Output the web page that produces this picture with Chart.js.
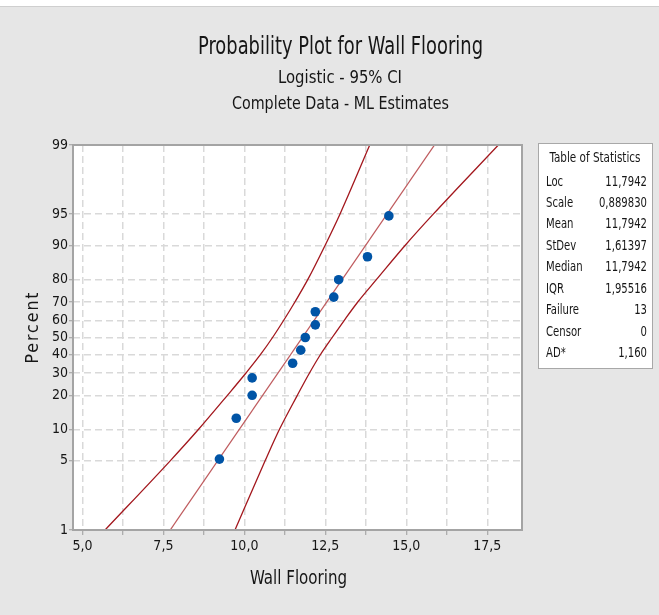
<!DOCTYPE html>
<html><head><meta charset="utf-8">
<script src="https://cdn.jsdelivr.net/npm/chart.js@4.4.0/dist/chart.umd.min.js"></script>
<style>html,body{margin:0;padding:0;background:#e6e6e6;}canvas{display:block;}</style>
</head><body>
<canvas id="c" width="659" height="615"></canvas>
<script>
// ---- data ----
const wallFlooring = [9.23, 9.75, 10.24, 10.24, 11.49, 11.74, 11.88, 12.19, 12.19, 12.76, 12.91, 13.80, 14.46];
const plotPercent  = [5.2, 12.7, 20.1, 27.6, 35.1, 42.5, 50.0, 57.5, 64.9, 72.4, 79.9, 87.3, 94.8];
const fitPercent   = [1, 99];
const fitX         = [7.71, 15.87];
const bandPercent  = [1, 5, 10, 20, 30, 40, 50, 60, 70, 80, 90, 95, 99];
const lowerBoundX  = [5.70, 7.71, 8.58, 9.47, 10.05, 10.50, 10.87, 11.21, 11.56, 11.96, 12.49, 12.95, 13.87];
const upperBoundX  = [9.71, 10.64, 11.08, 11.63, 12.01, 12.35, 12.71, 13.08, 13.50, 14.08, 14.96, 15.83, 17.84];
const yTickValues  = [1, 5, 10, 20, 30, 40, 50, 60, 70, 80, 90, 95, 99];
const xTickValues  = [5, 6.25, 7.5, 8.75, 10, 11.25, 12.5, 13.75, 15, 16.25, 17.5];
const xLabelled    = [5, 7.5, 10, 12.5, 15, 17.5];
const statNames    = ["Loc", "Scale", "Mean", "StDev", "Median", "IQR", "Failure", "Censor", "AD*"];
const statValues   = ["11,7942", "0,889830", "11,7942", "1,61397", "11,7942", "1,95516", "13", "0", "1,160"];
const titleLines   = ["Probability Plot for Wall Flooring", "Logistic - 95% CI", "Complete Data - ML Estimates"];

// ---- logistic probability (logit) scale ----
const logit = p => Math.log(p / (1 - p));
class LogitScale extends Chart.LinearScale {
  static id = 'logit';
  static defaults = {};
  getPixelForValue(v) {
    const lo = logit(this.min / 100), hi = logit(this.max / 100);
    return this.getPixelForDecimal((logit(v / 100) - lo) / (hi - lo));
  }
  getValueForPixel(px) {
    const lo = logit(this.min / 100), hi = logit(this.max / 100);
    const l = lo + this.getDecimalForPixel(px) * (hi - lo);
    return 100 / (1 + Math.exp(-l));
  }
}
Chart.register(LogitScale);

const FONT = '"Segoe UI", "Liberation Sans Narrow", "DejaVu Sans Condensed", Lato, "Open Sans", sans-serif';
const TXT = '#161616';

function drawText(ctx, text, x, y, size, opts = {}) {
  ctx.save();
  ctx.font = (opts.weight || 'normal') + ' ' + size + 'px ' + FONT;
  if (opts.spacing) ctx.letterSpacing = opts.spacing;
  ctx.fillStyle = opts.color || TXT;
  ctx.textBaseline = 'middle';
  const w = ctx.measureText(text).width;
  let sx = opts.sx || 1;
  if (opts.width) sx = opts.width / w;
  ctx.translate(x, y);
  if (opts.rotate) ctx.rotate(opts.rotate);
  ctx.scale(sx, 1);
  ctx.textAlign = opts.align || 'center';
  ctx.fillText(text, 0, 0);
  ctx.restore();
}

const decor = {
  id: 'decor',
  beforeDraw(chart) {
    const ctx = chart.ctx, a = chart.chartArea;
    ctx.save();
    ctx.fillStyle = '#e6e6e6';
    ctx.fillRect(0, 0, chart.width, chart.height);
    ctx.fillStyle = '#ffffff';
    ctx.fillRect(0, 0, chart.width, 6);
    ctx.fillStyle = '#cfcfcf';
    ctx.fillRect(0, 6, chart.width, 1);
    ctx.fillStyle = '#ffffff';
    ctx.fillRect(a.left, a.top, a.right - a.left, a.bottom - a.top);
    ctx.restore();
  },
  afterDraw(chart) {
    const ctx = chart.ctx, a = chart.chartArea;
    ctx.save();
    ctx.strokeStyle = '#a4a4a4';
    ctx.lineWidth = 2;
    ctx.strokeRect(a.left, a.top, a.right - a.left, a.bottom - a.top);
    ctx.restore();
    drawText(ctx, titleLines[0], 340.5, 48, 24, {width: 285});
    drawText(ctx, titleLines[1], 340, 79, 17, {width: 124});
    drawText(ctx, titleLines[2], 340.5, 105, 17, {width: 217});
    drawText(ctx, 'Wall Flooring', (a.left + a.right) / 2 + 1, 579, 19, {width: 97});
    drawText(ctx, 'Percent', 33, 327, 18, {rotate: -Math.PI / 2, spacing: '2px', width: 73});
    ctx.save();
    ctx.fillStyle = '#ffffff';
    ctx.fillRect(538, 143, 114, 225);
    ctx.strokeStyle = '#a8a8a8';
    ctx.lineWidth = 1;
    ctx.strokeRect(538.5, 143.5, 114, 225);
    ctx.restore();
    drawText(ctx, 'Table of Statistics', 595, 158, 14, {width: 91});
    const rowY = [182, 203, 224.5, 246, 267.5, 289, 310.5, 332, 353];
    statNames.forEach((n, i) => {
      drawText(ctx, n, 546, rowY[i], 14, {align: 'left', sx: 0.8});
      drawText(ctx, statValues[i], 647, rowY[i], 14, {align: 'right', sx: 0.8});
    });
  }
};

const gridCommon = {color: '#d9d9d9', lineWidth: 1.5, tickColor: '#9a9a9a', tickWidth: 1};
const fmt = v => v.toFixed(1).replace('.', ',');

new Chart(document.getElementById('c'), {
  type: 'line',
  data: {
    datasets: [
      {
        label: 'Wall Flooring',
        data: wallFlooring.map((x, i) => ({x: x, y: plotPercent[i]})),
        showLine: false,
        pointRadius: 4.8,
        pointBackgroundColor: '#0054a6',
        pointBorderWidth: 0,
        pointHoverRadius: 4.8
      },
      {
        label: 'Fit',
        data: fitX.map((x, i) => ({x: x, y: fitPercent[i]})),
        borderColor: '#bf5b5e',
        borderWidth: 1.3,
        pointRadius: 0
      },
      {
        label: 'Lower CI',
        data: lowerBoundX.map((x, i) => ({x: x, y: bandPercent[i]})),
        borderColor: '#a3171d',
        borderWidth: 1.3,
        pointRadius: 0,
        cubicInterpolationMode: 'monotone'
      },
      {
        label: 'Upper CI',
        data: upperBoundX.map((x, i) => ({x: x, y: bandPercent[i]})),
        borderColor: '#a3171d',
        borderWidth: 1.3,
        pointRadius: 0,
        cubicInterpolationMode: 'monotone'
      }
    ]
  },
  options: {
    responsive: false,
    animation: false,
    events: [],
    layout: {padding: {left: 0, right: 137, top: 145, bottom: 0}},
    plugins: {legend: {display: false}, tooltip: {enabled: false}, title: {display: false}},
    scales: {
      x: {
        type: 'linear', min: 4.71, max: 18.57,
        afterBuildTicks: s => { s.ticks = xTickValues.map(v => ({value: v})); },
        afterFit: s => { s.height = 85; },
        ticks: {
          autoSkip: false, maxRotation: 0, padding: 3, color: TXT,
          font: {family: FONT, size: 14},
          callback: v => xLabelled.includes(v) ? fmt(v) : ''
        },
        grid: Object.assign({tickLength: 5}, gridCommon),
        border: {display: false, dash: [7, 4]}
      },
      y: {
        type: 'logit', min: 1, max: 99,
        afterBuildTicks: s => { s.ticks = yTickValues.map(v => ({value: v})); },
        afterFit: s => { s.width = 73; },
        ticks: {
          autoSkip: false, padding: 1, color: TXT,
          font: {family: FONT, size: 14},
          callback: v => String(v)
        },
        grid: Object.assign({tickLength: 4}, gridCommon),
        border: {display: false, dash: [7, 4]}
      }
    }
  },
  plugins: [decor]
});
</script>
</body></html>
